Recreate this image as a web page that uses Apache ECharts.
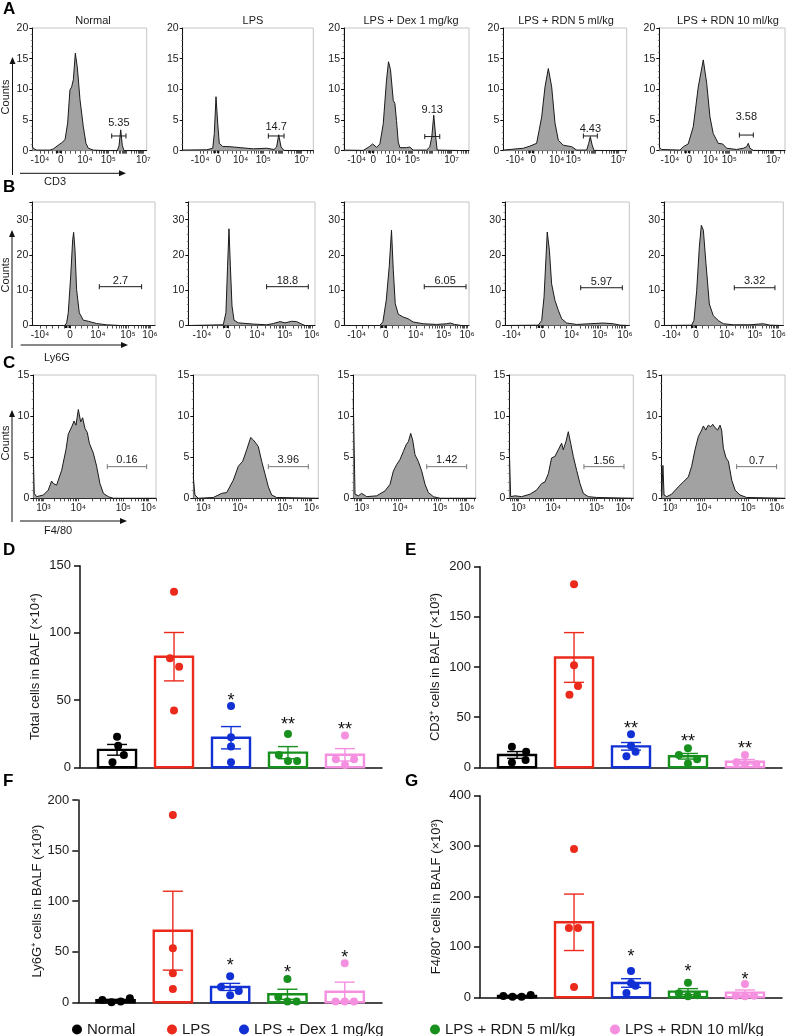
<!DOCTYPE html>
<html><head><meta charset="utf-8">
<script src="https://cdn.jsdelivr.net/npm/echarts@6/dist/echarts.min.js"></script>
<style>html,body{margin:0;padding:0;background:#fff}#c{width:791px;height:1036px}</style>
</head><body><div id="c"></div>
<script>
// ---------- DATA ----------
const groups = ['Normal', 'LPS', 'LPS + Dex 1 mg/kg', 'LPS + RDN 5 ml/kg', 'LPS + RDN 10 ml/kg'];
const markers = ['CD3', 'Ly6G', 'F4/80'];

// Histogram curves: [axis position (0-100 of panel width), counts]
const cd3Normal = [[0,0.65],[1.5,0.3],[3.8,0.1],[15.5,0.1],[18.4,0.3],[22.7,0.9],[25.7,1.3],[28.6,1.8],[30.9,4.5],[32.9,9.9],[34.4,10.4],[35.9,11.6],[37.6,15.9],[39.4,13.5],[41.7,8.3],[44.6,3.9],[46.9,1.2],[49,0.4],[53.4,0.1],[59.2,0.05],[74.3,0],[75.8,0.8],[77.3,3.4],[78.7,0.8],[80.2,0],[100,0]];
const cd3Lps = [[0,0.1],[18.4,0.15],[23,0.4],[24.2,2.8],[25.5,8.8],[26.8,4.5],[28,1.2],[30.6,0.7],[36.2,0.65],[43.9,0.5],[54,0.3],[64.3,0.4],[69.9,0.2],[71.9,0.6],[73.5,2.6],[75.3,0.6],[77.6,0.05],[100,0]];
const cd3Dex = [[0,0.1],[15.4,0.05],[20.2,0.65],[22.9,1.1],[26.1,0.55],[28.7,1.1],[31.4,4.4],[34,11.5],[35.6,14.5],[37.2,13.2],[39.4,8.2],[40.7,7.7],[42,4.9],[43.4,1.4],[44.7,0.5],[50,0.5],[52.7,0.6],[55.3,0.1],[66,0.1],[68.6,0.6],[70.2,2.2],[71.8,5.8],[73.4,2.2],[74.5,0.1],[100,0]];
const cd3Rdn5 = [[0,0.1],[16.2,0.4],[21.6,0.75],[27,1.2],[31.1,5.5],[33.8,10.4],[36.5,13.4],[39.2,10.4],[41.9,4.5],[44.6,1.7],[48.6,0.9],[55.4,0.65],[59.5,0.1],[67.6,0.1],[69.2,1.2],[70.5,2.3],[71.9,1.0],[73.5,0.05],[100,0]];
const cd3Rdn10 = [[0,0.55],[1.9,0.2],[16.4,0.1],[19.1,0.65],[23,1.1],[27,3.9],[31,10.4],[35,14.8],[37.7,11],[40.3,5.5],[42.9,2.8],[46.9,1.2],[50.4,1.1],[53.6,0.4],[61.5,0.2],[66.8,0.4],[69.5,0.65],[70.8,1.2],[72.1,0.4],[74.8,0.05],[100,0]];

const ly6gNormal = [[0,0],[26.4,0],[28,0.75],[29.3,3.6],[31.3,14],[32.9,24.3],[33.7,26.4],[34.8,21.5],[36.1,10.2],[38.3,3.6],[41.6,1.5],[45.7,1.2],[52.4,0.55],[60.6,0.2],[71.5,0],[100,0]];
const ly6gLps = [[0,0],[27.6,0.2],[29.7,3.6],[31,16.8],[32.1,27.4],[33.2,16.8],[34.5,5.5],[36.1,1.5],[39.5,0.75],[51.3,0.4],[61.8,0.2],[67.1,0.55],[72.4,1.1],[76.3,0.75],[81.6,1.2],[85.5,1.1],[89.5,0.4],[92.1,0],[100,0]];
const ly6gDex = [[0,0],[28.5,0],[31.1,1],[33.8,7.2],[36.2,16.8],[38,27],[39.4,15.8],[41,6.2],[43.4,3.2],[47.3,2.4],[51.3,1.9],[55.3,1],[63.3,0.5],[73.9,0.3],[81.9,0.5],[85.1,0.7],[88.5,0.3],[93.9,0],[100,0]];
const ly6gRdn5 = [[0,0],[26.8,0.1],[29.5,1.4],[31.4,8],[33,19.4],[34,26.5],[35.7,21.3],[37.5,11.8],[40.2,7.1],[42.9,4.3],[45.6,1.9],[49.6,0.7],[57.6,0.3],[68.4,0.5],[79.1,0.7],[87.1,0.5],[92.5,0.1],[100,0]];
const ly6gRdn10 = [[0,0],[23.2,0.1],[25.1,1.4],[27.4,9.9],[29.6,22.2],[31.3,28.4],[33,27],[35.2,17.5],[38,6.1],[41.3,2.8],[45.5,1.4],[49.7,0.5],[58.1,0.2],[72.1,0.2],[83.2,0.5],[88.8,0.1],[100,0]];

const f480Normal = [[0,5.1],[0.8,0.6],[2.7,0.2],[8.2,0.4],[12.2,1],[14.9,2.1],[16.3,1.8],[19,1.6],[23.1,3.4],[26.6,5.9],[28.5,7.8],[29.9,7.9],[31.3,8.7],[33.2,9.4],[34.8,8.9],[36.7,10.8],[38.6,9.3],[40.2,9.8],[42.1,8.5],[44,8],[45.7,6.7],[48.9,5.5],[51.6,3.9],[54.3,1.8],[57.1,0.6],[61.1,0.2],[65.2,0],[100,0]];
const f480Lps = [[0,2.6],[1.3,0.4],[4,0],[16,0.1],[22.7,0.6],[26.7,0.7],[32,2.2],[36,3.9],[39.5,4.5],[42.7,5.9],[45.9,7.4],[48,7.1],[50.1,6.7],[52,6.3],[54.7,4.5],[57.3,3],[60,1.4],[62.7,0.4],[66.7,0.1],[100,0]];
const f480Dex = [[0,12],[1.4,0.5],[4.1,0.3],[6.8,0.6],[10.9,0.2],[19.1,0.3],[25.9,0.9],[30,1.7],[32.7,3.3],[35.4,4.1],[38.1,4.7],[40.9,5.7],[43.1,6.5],[45,6.9],[46.9,7.9],[48.5,7.1],[50.4,5.3],[53.1,4.5],[55.9,3.3],[58.6,1.7],[61.3,0.7],[65.4,0.2],[70.8,0],[100,0]];
const f480Rdn5 = [[0,6],[1.1,0.2],[4.6,0.3],[9.9,0.2],[16.7,0.5],[22,1],[26.1,1.8],[28.8,2],[31.5,3],[34.1,4.9],[36.8,5.1],[39.5,5.9],[42.2,6.7],[43.5,5.9],[45.7,6.9],[47.6,8.1],[49.5,6.7],[51.6,5.1],[54.3,3.4],[57,1.8],[59.7,0.6],[63.7,0.2],[70.4,0.1],[100,0]];
const f480Rdn10 = [[0,0.3],[1,4],[1.9,0.4],[4.1,0.2],[8.1,0.5],[13.5,1.4],[17.6,2],[21.6,2.6],[24.3,3.9],[27,5.9],[29.7,7.5],[32.4,8.3],[33.8,8.8],[35.7,8.3],[37.8,8.9],[39.7,8.7],[41.4,9],[43.2,8.6],[45.4,8.3],[47.3,8.9],[48.6,8.3],[50,6.1],[52.2,4.9],[54.1,4.5],[56.8,2.2],[59.5,1],[63.5,0.4],[68.9,0.1],[100,0]];

// Gates: [start, end, bar level (counts), label level (counts)] and their labels
const cd3Gates = [[69.4,81.9,2.4,4.6],[65.6,77.6,2.4,3.9],[64.6,76.6,2.3,6.6],[64.9,76.2,2.4,3.5],[63.7,74.8,2.55,5.5]];
const cd3GateLabels = ['5.35','14.7','9.13','4.43','3.58'];
const ly6gGates = [[54.6,89.1,11,12.5],[61.8,94.7,11,12.7],[64.2,97.6,11,12.7],[60.9,94.4,10.7,12.3],[58.9,93,10.7,12.5]];
const ly6gGateLabels = ['2.7','18.8','6.05','5.97','3.32'];
const f480Gates = [[60.3,92.4,3.85,4.66],[60,92,3.85,4.66],[60,92.6,3.85,4.66],[60.2,92.5,3.85,4.5],[60.8,93.2,3.85,4.6]];
const f480GateLabels = ['0.16','3.96','1.42','1.56','0.7'];

// Histogram x tick labels and their positions in each panel
const cd3TickLabels = ['-10⁴','0','10⁴','10⁵','10⁷'];
const cd3TickPos = [[6.7,25,46,66.5,97],[13.3,27.3,44.4,61.7,91],[10.1,23.4,39.4,54.8,86],[9.5,24.3,43.2,56.8,93],[8.5,23.9,40.8,55.7,90.7]];
const ly6gTickLabels = ['-10⁴','0','10⁴','10⁵','10⁶'];
const ly6gTickPos = [[6.3,30.7,53.5,78,95.9],[10.8,31.3,54.2,76.3,97.6],[10.1,33.5,57.4,79.8,98.4],[5.4,30.3,53.6,76.4,96.5],[6.4,26.8,52.5,76.3,95.8]];
const f480TickLabels = ['10³','10⁴','10⁵','10⁶'];
const f480TickPos = [[8.2,36.7,73.4,93.8],[8,37.3,73.3,94.7],[6.9,38.2,70.9,92.6],[7.3,35.5,70.4,91.9],[6.8,34.3,70.3,93.3]];

// Bar charts
const totalMean = [13, 82.3, 22, 10.9, 9.3];
const totalSem = [4, 18, 8.3, 4.5, 4.6];
const totalDots = [[22.8,16.1,9.2,3.7],[130.7,81.1,74.9,42.2],[45.6,22.3,15.4,3.7],[24.8,9.2,4.7,4.7],[23.6,6,6,1.7]];
const totalStars = ['','','*','**','**'];
const totalStarY = [0,0,53.3,35.2,31.5];

const cd3Mean = [12.3, 109.5, 20.9, 11, 5.6];
const cd3Sem = [3.4, 24.8, 3.8, 2.8, 2.2];
const cd3Dots = [[20.6,15.6,4.7,7.3],[182.4,101.7,81.1,72.4],[32.9,21.6,11,15.6],[18.9,12.3,8,3.7],[12.3,5,3,3]];
const cd3Stars = ['','','**','**','**'];
const cd3StarY = [0,0,42.9,30.6,23.3];

const ly6gMean = [2, 70.8, 15.2, 7.9, 10.5];
const ly6gSem = [0.9, 39, 3.5, 5, 9.4];
const ly6gDots = [[2.3,0,0.7,4],[185.2,53.4,28.7,13.2],[25.7,15.2,11.2,6.9],[23.1,5.3,0.7,0.7],[38.5,0.7,0.7,0.7]];
const ly6gStars = ['','','*','*','*'];
const ly6gStarY = [0,0,40.9,34.3,49.1];

const f480Mean = [2.6, 148.8, 28.4, 11.2, 9.3];
const f480Sem = [0.8, 56, 8.5, 6, 5.2];
const f480Dots = [[2.6,1.3,1.3,4.6],[294.2,137.5,137.5,20.5],[52.2,28.4,23.1,8.6],[29.1,7.9,4,2],[26.4,3.3,2,3.3]];
const f480Stars = ['','','*','*','*'];
const f480StarY = [0,0,90.6,60.8,44.3];

// ---------- LAYOUT / STYLE ----------
const FONT = 'Arial, "Liberation Sans", Helvetica, sans-serif';
const TXT = '#1a1a1a';
const colors = ['#000000', '#ec2a1c', '#1131d4', '#17901e', '#f590e0'];

const histBoxes = [
  [[32.3,28,114.4,122.7],[182.7,28,130.6,122.7],[344,28,125,122.7],[503.3,28,123.4,122.7],[659.3,28,125.7,122.7]],
  [[32.3,202,122.7,123.5],[188.3,202,126.7,123.5],[344,202,125,123.5],[505,202,124.3,123.5],[664,202,119.3,123.5]],
  [[33.3,375,122.7,123.3],[193.3,375,125,123.3],[353.3,375,122.4,123.3],[509.3,375,124,123.3],[661.7,375,123.3,123.3]]
];
const titleX = [93, 253, 411, 566, 728];

// dot horizontal spread (in category units) for each chart
const dotOffD = [[0,0.02,0.12,-0.08],[0,-0.07,0.09,0],[0,0,0,0],[0,-0.16,0,0.16],[0,-0.16,0.16,0]];
const dotOffE = [[-0.09,0.16,-0.09,0.15],[0,0,0.07,-0.08],[0,0,-0.08,0.08],[0,-0.16,0.16,0],[0,-0.15,0,0.2]];
const dotOffF = [[-0.23,-0.07,0.09,0.25],[0,0,0,0],[0,-0.16,0.15,0],[0,-0.16,0,0.16],[0,-0.16,0,0.16]];
const dotOffG = [[-0.24,-0.08,0.08,0.24],[0,-0.09,0.07,0],[0,0,0.08,-0.08],[0,-0.16,0.16,0],[0,-0.16,0,0.16]];

const histRows = [
  {curves:[cd3Normal,cd3Lps,cd3Dex,cd3Rdn5,cd3Rdn10], gates:cd3Gates, gateLabels:cd3GateLabels, tickPos:cd3TickPos, tickLabels:cd3TickLabels, yMax:20, yInt:5, gateColor:'#1a1a1a', zeroMark:true},
  {curves:[ly6gNormal,ly6gLps,ly6gDex,ly6gRdn5,ly6gRdn10], gates:ly6gGates, gateLabels:ly6gGateLabels, tickPos:ly6gTickPos, tickLabels:ly6gTickLabels, yMax:35, yInt:10, gateColor:'#1a1a1a', zeroMark:true},
  {curves:[f480Normal,f480Lps,f480Dex,f480Rdn5,f480Rdn10], gates:f480Gates, gateLabels:f480GateLabels, tickPos:f480TickPos, tickLabels:f480TickLabels, yMax:15, yInt:5, gateColor:'#777777', zeroMark:false}
];

const barCharts = [
  {mean:totalMean, sem:totalSem, dots:totalDots, stars:totalStars, starY:totalStarY, yMax:150, yInt:50, name:'Total cells in BALF (×10⁴)', off:dotOffD, box:[80,565.7,302,201.6], nameGap:38},
  {mean:cd3Mean, sem:cd3Sem, dots:cd3Dots, stars:cd3Stars, starY:cd3StarY, yMax:200, yInt:50, name:'CD3⁺ cells in BALF (×10³)', off:dotOffE, box:[480,566.7,302,200.6], nameGap:38},
  {mean:ly6gMean, sem:ly6gSem, dots:ly6gDots, stars:ly6gStars, starY:ly6gStarY, yMax:200, yInt:50, name:'Ly6G⁺ cells in BALF (×10³)', off:dotOffF, box:[78.3,800,303.7,202.3], nameGap:32},
  {mean:f480Mean, sem:f480Sem, dots:f480Dots, stars:f480Stars, starY:f480StarY, yMax:400, yInt:100, name:'F4/80⁺ cells in BALF (×10³)', off:dotOffG, box:[480,795.7,302,201.6], nameGap:37}
];

const supExp = {'³':3,'⁴':4,'⁵':5,'⁶':6,'⁷':7};
function expOf(lbl){ const c = lbl[lbl.length-1]; return supExp[c]; }
function minorTicks(pos, labels){
  const out = [];
  for (let i = 0; i < pos.length - 1; i++){
    const a = pos[i], b = pos[i+1], la = labels[i], lb = labels[i+1];
    if (la.startsWith('-') || la === '0'){
      for (let k = 1; k < 5; k++) out.push(a + (b - a) * k / 5);
    } else {
      const d = expOf(lb) - expOf(la);
      for (let k = 0; k < d; k++){
        if (k > 0) out.push(a + (b - a) * k / d);
        for (let m = 2; m <= 9; m++) out.push(a + (b - a) * (k + Math.log10(m)) / d);
      }
    }
  }
  const n = pos.length;
  const la = labels[n-2], lb = labels[n-1];
  const step = (pos[n-1] - pos[n-2]) / (expOf(lb) - expOf(la));
  for (let m = 2; m <= 9; m++){ const v = pos[n-1] + step * Math.log10(m); if (v <= 100) out.push(v); }
  if (!labels[0].startsWith('-')){
    for (let m = 2; m <= 9; m++){ const v = pos[0] - step * (1 - Math.log10(m)); if (v >= 0) out.push(v); }
  }
  return out;
}

const option = {
  animation: false,
  backgroundColor: '#ffffff',
  textStyle: {fontFamily: FONT},
  grid: [], xAxis: [], yAxis: [], series: [], graphic: [], legend: []
};

// ---------- HISTOGRAMS ----------
histRows.forEach((row, r) => {
  row.curves.forEach((curve, c) => {
    const gi = option.grid.length;
    const b = histBoxes[r][c];
    const majors = row.tickPos[c];
    option.grid.push({left:b[0], top:b[1], width:b[2], height:b[3], show:true, borderColor:'#c4c4c4', borderWidth:1});
    option.xAxis.push({
      gridIndex: gi, type:'value', min:0, max:100,
      axisLine:{show:true, onZero:false, lineStyle:{color:'#111', width:1}},
      axisTick:{show:true, customValues: majors.concat(minorTicks(majors, row.tickLabels)), length:3, lineStyle:{color:'#222', width:0.8}},
      axisLabel:{customValues: majors, margin:5, fontSize:10, color:TXT, fontFamily:FONT,
        formatter: (v) => { const i = majors.findIndex(p => Math.abs(p - v) < 1e-6); return i >= 0 ? row.tickLabels[i] : ''; }},
      splitLine:{show:false}
    });
    option.yAxis.push({
      gridIndex: gi, type:'value', min:0, max:row.yMax, interval:row.yInt,
      axisLine:{show:true, onZero:false, lineStyle:{color:'#111', width:1}},
      axisTick:{show:true, length:3, lineStyle:{color:'#111', width:1}},
      minorTick:{show:true, splitNumber:5, length:1.5, lineStyle:{color:'#777', width:0.8}},
      axisLabel:{margin:4, fontSize:10.5, color:TXT, fontFamily:FONT, formatter:(v) => (v % row.yInt === 0 ? String(v) : '')},
      splitLine:{show:false}
    });
    option.series.push({
      type:'line', xAxisIndex:gi, yAxisIndex:gi, data:curve, symbol:'none', silent:true,
      lineStyle:{color:'#1a1a1a', width:1}, areaStyle:{color:'#a2a2a2', opacity:1}
    });
    const gLabel = row.gateLabels[c];
    const gCol = row.gateColor;
    const zeroPos = row.zeroMark ? majors[1] : null;
    option.series.push({
      type:'custom', xAxisIndex:gi, yAxisIndex:gi, silent:true, z:5,
      data:[row.gates[c]],
      renderItem:(params, api) => {
        const x1 = api.value(0), x2 = api.value(1), yl = api.value(2), yt = api.value(3);
        const p1 = api.coord([x1, yl]), p2 = api.coord([x2, yl]), pt = api.coord([(x1 + x2) / 2, yt]);
        const ch = [
          {type:'line', shape:{x1:p1[0], y1:p1[1], x2:p2[0], y2:p2[1]}, style:{stroke:gCol, lineWidth:1}},
          {type:'line', shape:{x1:p1[0], y1:p1[1]-2.5, x2:p1[0], y2:p1[1]+2.5}, style:{stroke:gCol, lineWidth:1}},
          {type:'line', shape:{x1:p2[0], y1:p2[1]-2.5, x2:p2[0], y2:p2[1]+2.5}, style:{stroke:gCol, lineWidth:1}},
          {type:'text', style:{text:gLabel, x:pt[0], y:pt[1], align:'center', verticalAlign:'middle', fontSize:11, fontFamily:FONT, fill:TXT}}
        ];
        if (zeroPos !== null){
          const pz = api.coord([zeroPos, 0]);
          ch.push({type:'rect', shape:{x:pz[0]-5, y:pz[1], width:2.5, height:2.5}, style:{fill:'#111'}});
          ch.push({type:'rect', shape:{x:pz[0]-1.5, y:pz[1], width:2.5, height:2.5}, style:{fill:'#111'}});
        }
        return {type:'group', children:ch};
      }
    });
  });
});

// ---------- BAR CHARTS ----------
barCharts.forEach((bc) => {
  const gi = option.grid.length;
  option.grid.push({left:bc.box[0], top:bc.box[1], width:bc.box[2], height:bc.box[3]});
  option.xAxis.push({gridIndex:gi, type:'value', min:-0.65, max:4.65,
    axisLine:{show:true, onZero:false, lineStyle:{color:'#111', width:1.5}},
    axisTick:{show:false}, axisLabel:{show:false}, splitLine:{show:false}});
  option.yAxis.push({gridIndex:gi, type:'value', min:0, max:bc.yMax, interval:bc.yInt,
    name:bc.name, nameLocation:'middle', nameGap:bc.nameGap, nameRotate:90,
    nameTextStyle:{fontSize:13, color:TXT, fontFamily:FONT},
    axisLine:{show:true, onZero:false, lineStyle:{color:'#111', width:1.5}},
    axisTick:{show:true, length:6, lineStyle:{color:'#111', width:1.5}},
    axisLabel:{fontSize:13, color:TXT, margin:9, fontFamily:FONT},
    splitLine:{show:false}});
  option.series.push({
    type:'custom', xAxisIndex:gi, yAxisIndex:gi, z:2, silent:true,
    data: bc.mean.map((m, g) => [g, m, bc.sem[g], bc.starY[g]]),
    renderItem:(params, api) => {
      const g = api.value(0), m = api.value(1), s = api.value(2), sy = api.value(3);
      const col = colors[g];
      const p0 = api.coord([g, 0]), pm = api.coord([g, m]);
      const bw = api.size([0.667, 0])[0];
      const cap = api.size([0.175, 0])[0];
      const ph = api.coord([g, m + s]), pl = api.coord([g, Math.max(m - s, 0)]);
      const ch = [
        {type:'rect', shape:{x:p0[0]-bw/2, y:pm[1], width:bw, height:p0[1]-pm[1]}, style:{fill:'#ffffff', stroke:col, lineWidth:2.4}},
        {type:'line', shape:{x1:ph[0], y1:ph[1], x2:pl[0], y2:pl[1]}, style:{stroke:col, lineWidth:1.4}},
        {type:'line', shape:{x1:ph[0]-cap, y1:ph[1], x2:ph[0]+cap, y2:ph[1]}, style:{stroke:col, lineWidth:1.4}},
        {type:'line', shape:{x1:pl[0]-cap, y1:pl[1], x2:pl[0]+cap, y2:pl[1]}, style:{stroke:col, lineWidth:1.4}}
      ];
      if (bc.stars[g]){
        const ps = api.coord([g, sy]);
        ch.push({type:'text', style:{text:bc.stars[g], x:ps[0], y:ps[1]+5, align:'center', verticalAlign:'middle', fontSize:18, fontFamily:FONT, fill:'#111'}});
      }
      return {type:'group', children:ch};
    }
  });
  groups.forEach((name, g) => {
    option.series.push({type:'scatter', name, xAxisIndex:gi, yAxisIndex:gi, z:4, silent:true,
      symbolSize:8, itemStyle:{color:colors[g], opacity:1},
      data: bc.dots[g].map((v, i) => [g + bc.off[g][i], v])});
  });
});

// ---------- LEGEND ----------
const legendLeft = [67, 162, 234, 425, 605];
groups.forEach((name, g) => {
  option.legend.push({data:[{name, itemStyle:{color:colors[g]}}], left:legendLeft[g], top:1017,
    icon:'circle', itemWidth:10, itemHeight:10, selectedMode:false,
    textStyle:{fontSize:15, color:TXT, fontFamily:FONT}});
});

// ---------- ANNOTATIONS ----------
const G = option.graphic;
function txt(text, x, y, size, opts){
  G.push(Object.assign({type:'text', x, y, silent:true,
    style:Object.assign({text, align:'center', verticalAlign:'middle', fontSize:size, fontFamily:FONT, fill:TXT}, (opts && opts.style) || {})},
    (opts && opts.el) || {}));
}
// titles
groups.forEach((name, c) => txt(name, titleX[c], 20.5, 11));
// panel letters
[['A',3,9],['B',3,187],['C',3,363],['D',3,550],['E',405,550],['F',3,781],['G',405,781]].forEach(([t,x,y]) => {
  txt(t, x, y, 17, {style:{align:'left', fontWeight:'bold', fill:'#000'}});
});
// axis arrows for histogram rows
const arrowRows = [
  {vx:12.5, vTop:57, vBot:175, hy:173.3, hL:20, hR:126, marker:markers[0], my:182, cy:97},
  {vx:12, vTop:230, vBot:348, hy:345, hL:20.7, hR:128, marker:markers[1], my:357.5, cy:275},
  {vx:12, vTop:410, vBot:522, hy:521, hL:20, hR:127, marker:markers[2], my:530.5, cy:443}
];
arrowRows.forEach(a => {
  G.push({type:'line', silent:true, shape:{x1:a.vx, y1:a.vBot, x2:a.vx, y2:a.vTop+6}, style:{stroke:'#111', lineWidth:1}});
  G.push({type:'polygon', silent:true, shape:{points:[[a.vx, a.vTop],[a.vx-3, a.vTop+7],[a.vx+3, a.vTop+7]]}, style:{fill:'#111'}});
  G.push({type:'line', silent:true, shape:{x1:a.hL, y1:a.hy, x2:a.hR-6, y2:a.hy}, style:{stroke:'#111', lineWidth:1}});
  G.push({type:'polygon', silent:true, shape:{points:[[a.hR, a.hy],[a.hR-7, a.hy-3],[a.hR-7, a.hy+3]]}, style:{fill:'#111'}});
  txt(a.marker, 44, a.my, 11, {style:{align:'left'}});
  txt('Counts', 5.5, a.cy, 11, {el:{rotation:Math.PI/2}});
});

const chart = echarts.init(document.getElementById('c'), null, {renderer:'canvas'});
chart.setOption(option);
</script></body></html>
